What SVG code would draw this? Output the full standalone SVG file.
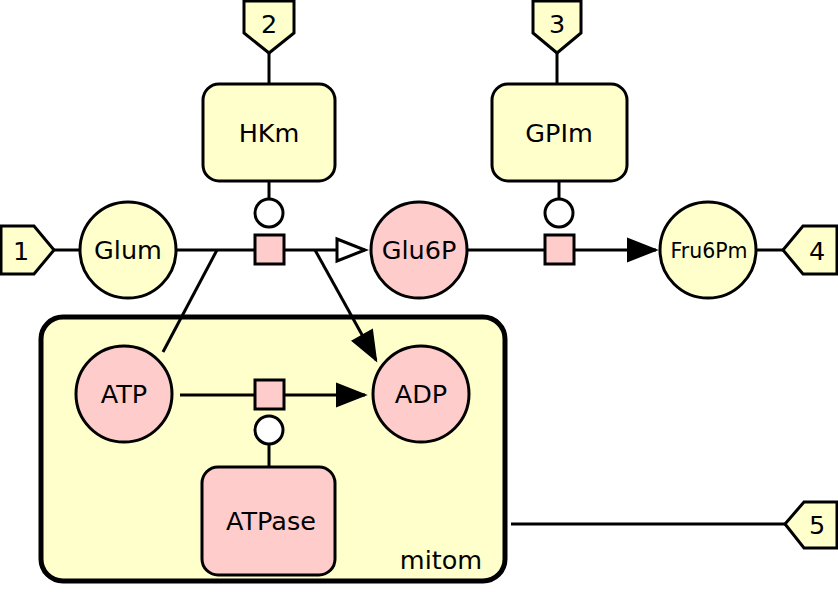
<svg xmlns="http://www.w3.org/2000/svg" width="838" height="592" viewBox="0 0 838 592">
<defs>
<style>
.y{fill:#ffffcc;stroke:#000;stroke-width:3}
.p{fill:#ffcccc;stroke:#000;stroke-width:3}
.w{fill:#fff;stroke:#000;stroke-width:3}
.l{fill:none;stroke:#000;stroke-width:3}
text{font-family:"DejaVu Sans","Liberation Sans",sans-serif;font-size:25.5px;text-anchor:middle;dominant-baseline:central;fill:#000}
</style>
<marker id="fa" markerUnits="userSpaceOnUse" markerWidth="34" markerHeight="30" refX="30" refY="13" orient="auto" viewBox="0 0 34 26">
<path d="M2,2 L30,13 L2,24 Z" fill="#000" stroke="#000" stroke-width="2"/>
</marker>
<marker id="oa" markerUnits="userSpaceOnUse" markerWidth="34" markerHeight="30" refX="30" refY="13" orient="auto" viewBox="0 0 34 26">
<path d="M2,2 L30,13 L2,24 Z" fill="#fff" stroke="#000" stroke-width="3"/>
</marker>
</defs>
<g id="mitom">
<rect x="41" y="317" width="464" height="264" rx="22" fill="#ffffcc" stroke="#000" stroke-width="5"/>
<text x="441" y="560">mitom</text>
</g>
<g id="connectors">
<line class="l" x1="54" y1="250" x2="80" y2="250"/>
<line class="l" x1="176" y1="250" x2="255" y2="250"/>
<line class="l" x1="284" y1="250" x2="365" y2="250" marker-end="url(#oa)"/>
<line class="l" x1="217" y1="250" x2="163" y2="352"/>
<line class="l" x1="315" y1="250" x2="376" y2="360" marker-end="url(#fa)"/>
<line class="l" x1="269" y1="53" x2="269" y2="84"/>
<line class="l" x1="269" y1="181" x2="269" y2="199"/>
<line class="l" x1="557" y1="53" x2="557" y2="84"/>
<line class="l" x1="559" y1="181" x2="559" y2="199"/>
<line class="l" x1="467" y1="250" x2="545" y2="250"/>
<line class="l" x1="574" y1="250" x2="656" y2="250" marker-end="url(#fa)"/>
<line class="l" x1="757" y1="250" x2="783" y2="250"/>
<line class="l" x1="180" y1="395" x2="255" y2="395"/>
<line class="l" x1="284" y1="395" x2="365" y2="395" marker-end="url(#fa)"/>
<line class="l" x1="269" y1="444" x2="269" y2="467"/>
<line class="l" x1="511" y1="524" x2="785" y2="524"/>
</g>
<g id="tag1"><path class="y" d="M1,226 L34,226 L54,250 L34,274 L1,274 Z"/><text x="21" y="251">1</text></g>
<g id="tag2"><path class="y" d="M244,1 L294,1 L294,33 L269,53 L244,33 Z"/><text x="269" y="24">2</text></g>
<g id="tag3"><path class="y" d="M533,1 L581,1 L581,33 L557,53 L533,33 Z"/><text x="557" y="24">3</text></g>
<g id="tag4"><path class="y" d="M837,226 L803,226 L783,250 L803,274 L837,274 Z"/><text x="817" y="251">4</text></g>
<g id="tag5"><path class="y" d="M837,502 L804,502 L785,524 L804,548 L837,548 Z"/><text x="817" y="525">5</text></g>
<g id="Glum"><circle class="y" cx="128" cy="250" r="48"/><text x="128" y="250">Glum</text></g>
<g id="Glu6P"><circle class="p" cx="419" cy="250" r="48"/><text x="419" y="250">Glu6P</text></g>
<g id="Fru6Pm"><circle class="y" cx="708" cy="250" r="48"/><text x="709" y="251" style="font-size:20.5px">Fru6Pm</text></g>
<g id="ATP"><circle class="p" cx="124" cy="394" r="48"/><text x="124" y="394">ATP</text></g>
<g id="ADP"><circle class="p" cx="421" cy="394" r="48"/><text x="421" y="394">ADP</text></g>
<g id="HKm"><rect class="y" x="203" y="84" width="132" height="97" rx="16"/><text x="269" y="133">HKm</text></g>
<g id="GPIm"><rect class="y" x="492" y="84" width="135" height="97" rx="16"/><text x="559" y="133">GPIm</text></g>
<g id="ATPase"><rect class="p" x="202" y="467" width="133" height="108" rx="16"/><text x="271" y="521">ATPase</text></g>
<g id="r1"><circle class="w" cx="269" cy="213" r="14"/><rect class="p" x="255" y="235" width="29" height="29"/></g>
<g id="r2"><circle class="w" cx="559" cy="213" r="14"/><rect class="p" x="545" y="235" width="29" height="29"/></g>
<g id="r3"><circle class="w" cx="269" cy="430" r="14"/><rect class="p" x="255" y="380" width="29" height="29"/></g>
</svg>
